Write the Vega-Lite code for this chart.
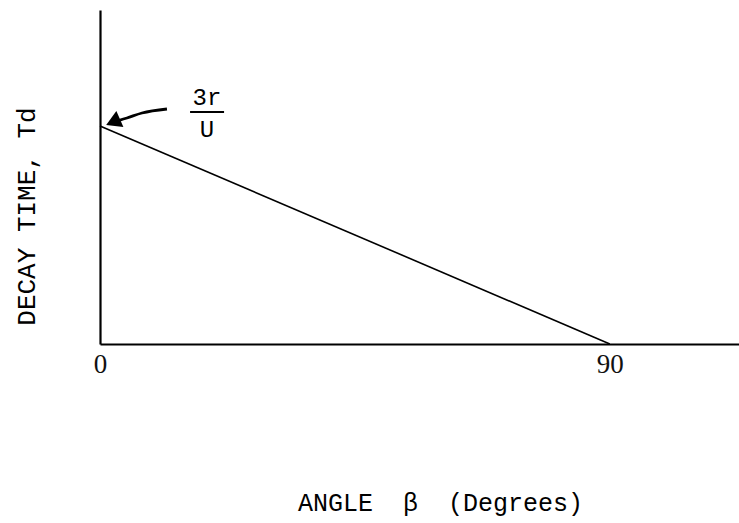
{
  "$schema": "https://vega.github.io/schema/vega-lite/v6.json",
  "width": 639,
  "height": 334,
  "autosize": {"type": "none"},
  "padding": {"left": 100, "top": 10, "right": 0, "bottom": 179},
  "background": "white",
  "config": {"view": {"stroke": null}},
  "datasets": {
    "decay": [{"beta": 0, "td": 0.653}, {"beta": 90, "td": 0}],
    "arrow": [
      {"beta": 11.82, "td": 0.7036, "o": 1},
      {"beta": 7.41, "td": 0.6916, "o": 2},
      {"beta": 4.76, "td": 0.6766, "o": 3},
      {"beta": 3.2, "td": 0.6685, "o": 4}
    ],
    "head": [{"beta": 2.3, "td": 0.6645}],
    "frac": [
      {"beta": 18.88, "td": 0.7365, "label": "3r"},
      {"beta": 18.88, "td": 0.6407, "label": "U"}
    ],
    "bar": [{"b1": 15.9, "b2": 21.9, "td": 0.6946}]
  },
  "layer": [
    {
      "data": {"name": "decay"},
      "mark": {"type": "line", "color": "black", "strokeWidth": 1.6},
      "encoding": {
        "x": {
          "field": "beta", "type": "quantitative",
          "scale": {"domain": [0, 112.8], "nice": false, "zero": false},
          "axis": {
            "values": [0, 90], "ticks": false, "grid": false,
            "domainColor": "black", "domainWidth": 2.2,
            "labelFont": "Liberation Serif", "labelFontSize": 27, "labelColor": "#111111",
            "labelPadding": 7, "labelFlush": false,
            "title": "ANGLE\u00a0\u00a0β\u00a0\u00a0(Degrees)",
            "titleFont": "Liberation Mono", "titleFontSize": 25, "titleFontWeight": "normal",
            "titleColor": "black", "titleX": 340, "titleY": 158,
            "titleBaseline": "middle", "titleAlign": "center"
          }
        },
        "y": {
          "field": "td", "type": "quantitative",
          "scale": {"domain": [0, 1], "nice": false},
          "axis": {
            "labels": false, "ticks": false, "grid": false,
            "domainColor": "black", "domainWidth": 2.2,
            "title": "DECAY\u00a0TIME,\u00a0Td",
            "titleFont": "Liberation Mono", "titleFontSize": 26, "titleFontWeight": "normal",
            "titleColor": "black", "titleAngle": -90, "titleX": -74, "titleY": 206,
            "titleBaseline": "middle", "titleAlign": "center"
          }
        }
      }
    },
    {
      "data": {"name": "arrow"},
      "mark": {"type": "line", "color": "black", "strokeWidth": 2.8, "interpolate": "monotone"},
      "encoding": {
        "x": {"field": "beta", "type": "quantitative"},
        "y": {"field": "td", "type": "quantitative"},
        "order": {"field": "o"}
      }
    },
    {
      "data": {"name": "head"},
      "mark": {"type": "point", "shape": "triangle-left", "filled": true, "color": "black", "opacity": 1, "size": 300, "angle": 336},
      "encoding": {
        "x": {"field": "beta", "type": "quantitative"},
        "y": {"field": "td", "type": "quantitative"}
      }
    },
    {
      "data": {"name": "frac"},
      "mark": {"type": "text", "font": "Liberation Mono", "fontSize": 24, "color": "black", "baseline": "middle", "align": "center"},
      "encoding": {
        "x": {"field": "beta", "type": "quantitative"},
        "y": {"field": "td", "type": "quantitative"},
        "text": {"field": "label"}
      }
    },
    {
      "data": {"name": "bar"},
      "mark": {"type": "rule", "color": "black", "strokeWidth": 1.8},
      "encoding": {
        "x": {"field": "b1", "type": "quantitative"},
        "x2": {"field": "b2"},
        "y": {"field": "td", "type": "quantitative"}
      }
    }
  ]
}
